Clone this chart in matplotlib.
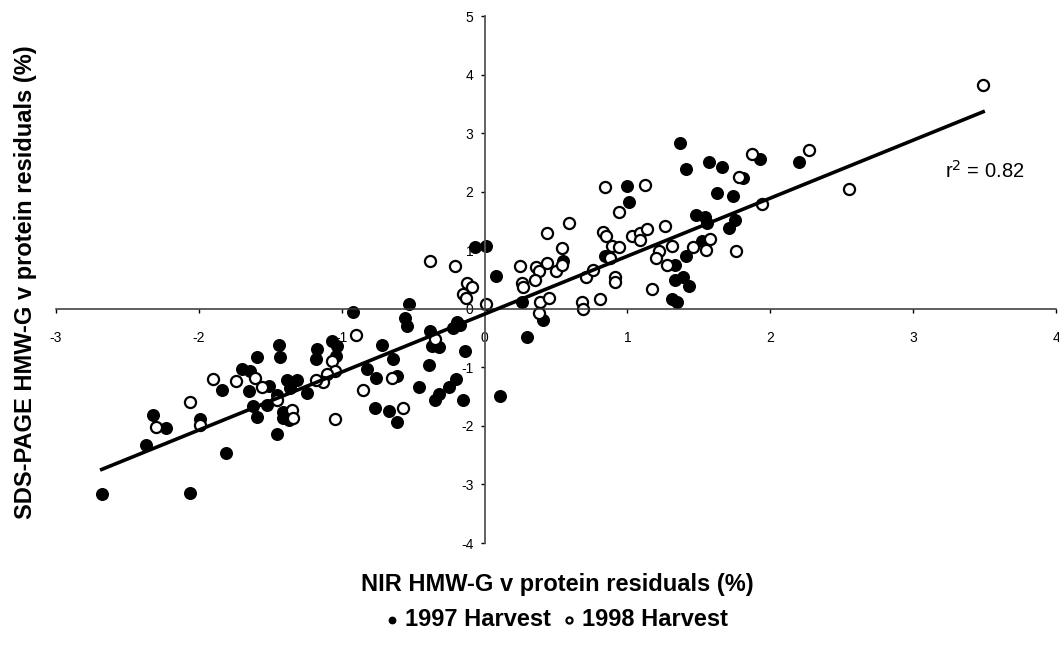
import numpy as np
import matplotlib
matplotlib.use("Agg")
import matplotlib.pyplot as plt

plt.rcParams['font.family'] = ['Liberation Sans', 'DejaVu Sans']
plt.rcParams['axes.unicode_minus'] = False

# 1997 harvest (filled circles)
x97 = [1.37, 1.41, 1.57, 1.66, 1.93, 2.20, 1.81, 1.63, 1.74, 1.00, 1.01, 1.48, 1.54, 1.56,
       1.75, 1.71, 0.84, 1.33, 1.41, 1.52, 0.55, 1.33, 1.39, 1.43, 1.31, 1.35, 0.41, -0.07,
       0.01, 0.08, 0.26, -0.53, -0.92, -0.56, -0.54, -0.38, -0.37, -0.32, -0.22, -0.19, -0.17,
       -0.14, 0.30, 0.11, -0.39, -0.35, -0.32, -0.25, -0.20, -0.15, -0.46, -0.72, -0.82, -0.76,
       -0.77, -0.67, -0.61, -0.61, -0.64, -1.07, -1.03, -1.17, -1.18, -1.04, -1.24, -1.31, -1.38,
       -1.36, -1.44, -1.43, -1.59, -1.70, -1.64, -1.65, -1.51, -1.62, -1.52, -1.59, -1.45, -1.41,
       -1.37, -1.41, -1.45, -1.84, -1.99, -2.32, -2.23, -2.37, -1.81, -2.68, -2.06]
y97 = [2.84, 2.39, 2.51, 2.42, 2.55, 2.51, 2.23, 1.97, 1.92, 2.09, 1.82, 1.60, 1.57, 1.46,
       1.51, 1.38, 0.91, 0.75, 0.91, 1.15, 0.82, 0.50, 0.55, 0.39, 0.17, 0.11, -0.19, 1.06,
       1.08, 0.56, 0.12, 0.08, -0.06, -0.16, -0.29, -0.38, -0.64, -0.65, -0.32, -0.22, -0.28,
       -0.72, -0.48, -1.49, -0.96, -1.55, -1.46, -1.33, -1.20, -1.56, -1.33, -0.61, -1.02, -1.19,
       -1.69, -1.75, -1.93, -1.14, -0.85, -0.55, -0.64, -0.68, -0.86, -0.81, -1.43, -1.22, -1.22,
       -1.35, -0.62, -0.83, -0.82, -1.02, -1.06, -1.40, -1.31, -1.66, -1.65, -1.84, -1.48, -1.76,
       -1.90, -1.86, -2.13, -1.39, -1.89, -1.82, -2.04, -2.33, -2.47, -3.16, -3.14]

# 1998 harvest (open circles)
x98 = [3.49, 1.87, 2.27, 1.78, 2.55, 0.84, 1.12, 0.94, 1.94, 0.59, 0.44, 0.83, 0.85, 1.03,
       1.09, 1.14, 1.09, 1.26, 0.54, 0.89, 0.94, 0.88, 1.22, 1.31, 1.20, 1.28, 1.46, 1.58,
       1.55, 1.76, 0.36, 0.38, 0.44, 0.50, 0.54, 0.35, 0.71, 0.76, 0.91, 0.91, 1.17, 0.39,
       0.45, 0.68, 0.69, 0.81, 0.38, -0.38, -0.21, -0.12, -0.09, -0.15, -0.13, 0.01, 0.25,
       0.26, 0.27, -0.35, -0.65, -0.85, -0.57, -0.90, -1.07, -1.05, -1.10, -1.13, -1.18, -1.61,
       -1.56, -1.45, -1.35, -1.34, -1.05, -1.90, -1.74, -2.06, -1.99, -2.30]
y98 = [3.82, 2.65, 2.72, 2.25, 2.05, 2.08, 2.11, 1.66, 1.79, 1.47, 1.29, 1.32, 1.24, 1.24,
       1.30, 1.37, 1.17, 1.41, 1.04, 1.07, 1.06, 0.86, 0.99, 1.08, 0.86, 0.74, 1.06, 1.19,
       1.00, 0.99, 0.71, 0.65, 0.79, 0.65, 0.75, 0.50, 0.54, 0.66, 0.54, 0.46, 0.34, 0.12,
       0.18, 0.12, -0.01, 0.16, -0.08, 0.81, 0.73, 0.44, 0.38, 0.25, 0.18, 0.09, 0.73,
       0.44, 0.37, -0.51, -1.18, -1.39, -1.70, -0.44, -0.89, -1.06, -1.12, -1.25, -1.22, -1.18,
       -1.33, -1.56, -1.73, -1.86, -1.89, -1.20, -1.23, -1.60, -1.99, -2.02]

# trend line
slope = 0.99
intercept = -0.09
r2 = 0.82

fig = plt.figure(figsize=(10.59, 6.49), dpi=100)
ax = fig.add_axes([0.0529, 0.1633, 0.9443, 0.812])

ax.scatter(x97, y97, s=70, c='black', edgecolors='black', linewidths=1.0,
           label='1997 Harvest', zorder=2)
ax.scatter(x98, y98, s=64, c='white', edgecolors='black', linewidths=1.6,
           label='1998 Harvest', zorder=2)

allx = np.array(x97 + x98)
lx = np.array([allx.min(), allx.max()])
ax.plot(lx, slope * lx + intercept, color='black', lw=2.6, zorder=3)

ax.text(3.22, 2.23, 'r$^2$ = %.2f' % r2, fontsize=14.5, ha='left', va='baseline')

ax.set_xlim(-3, 4)
ax.set_ylim(-4, 5)
ax.set_xticks(range(-3, 5))
ax.set_yticks(range(-4, 6))

ax.spines['left'].set_position(('data', 0))
ax.spines['bottom'].set_position(('data', 0))
ax.spines['right'].set_visible(False)
ax.spines['top'].set_visible(False)
ax.spines['left'].set_color('#555555')
ax.spines['bottom'].set_color('#333333')
ax.spines['left'].set_linewidth(1.3)
ax.spines['bottom'].set_linewidth(1.1)

ax.tick_params(axis='x', direction='out', length=3, width=1, pad=13, labelsize=10)
ax.tick_params(axis='y', direction='out', length=3, width=1, pad=5, labelsize=10)

fig.text(557 / 1059, 1 - 585 / 649, 'NIR HMW-G v protein residuals (%)',
         fontsize=17, fontweight='bold', ha='center', va='center')
fig.text(26 / 1059, 1 - 282 / 649, 'SDS-PAGE HMW-G v protein residuals (%)',
         fontsize=17, fontweight='bold', ha='center', va='center', rotation=90)

leg = fig.legend(loc='center', bbox_to_anchor=(557 / 1059, 1 - 620 / 649), ncol=2,
                 frameon=False, markerscale=0.55, handlelength=0.5, handletextpad=0.3,
                 columnspacing=0.5, prop={'weight': 'bold', 'size': 17})

fig.savefig('out.png', dpi=100)
